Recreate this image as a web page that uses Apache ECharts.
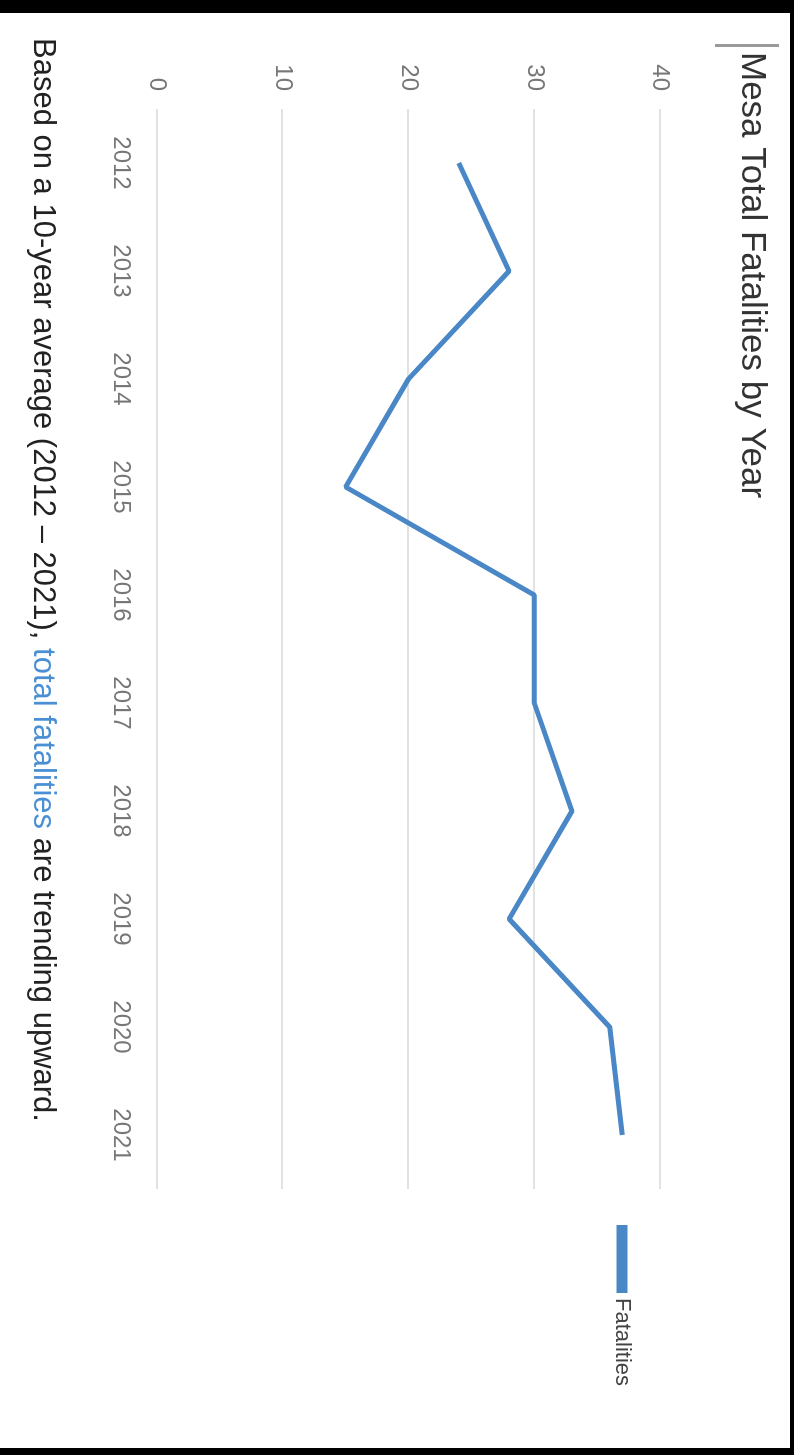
<!DOCTYPE html>
<html>
<head>
<meta charset="utf-8">
<script src="https://cdn.jsdelivr.net/npm/echarts@6/dist/echarts.min.js"></script>
<style>
html,body{margin:0;padding:0;background:#000;width:794px;height:1455px;overflow:hidden;}
#wrap{position:absolute;left:0;top:13px;width:790px;height:1435px;background:#fff;overflow:hidden;}
#chart{position:absolute;left:0;top:0;width:1435px;height:790px;transform-origin:0 0;transform:translateX(790px) rotate(90deg);}
</style>
</head>
<body>
<div id="wrap"><div id="chart"></div></div>
<script>
const titleText = 'Mesa Total Fatalities by Year';
const years = ['2012','2013','2014','2015','2016','2017','2018','2019','2020','2021'];
const fatalities = [24, 28, 20, 15, 30, 30, 33, 28, 36, 37];
const seriesName = 'Fatalities';
const notePre = 'Based on a 10-year average (2012 \u2013 2021), ';
const noteHighlight = 'total fatalities';
const notePost = ' are trending upward.';

const chart = echarts.init(document.getElementById('chart'), null, {renderer:'canvas'});
chart.setOption({
  backgroundColor: '#fff',
  animation: false,
  title: [
    {
      text: titleText,
      left: 34, top: 16,
      textStyle: {fontFamily: 'Liberation Sans, Arial, sans-serif', fontSize: 35, fontWeight: 'normal', color: '#333'}
    },
    {
      text: '{a|' + notePre + '}{b|' + noteHighlight + '}{a|' + notePost + '}',
      left: 20, top: 727,
      textStyle: {
        fontWeight: 'normal',
        rich: {
          a: {fontFamily: 'Liberation Sans, Arial, sans-serif', fontSize: 31, fontWeight: 'normal', color: '#222'},
          b: {fontFamily: 'Liberation Sans, Arial, sans-serif', fontSize: 31, fontWeight: 'normal', color: '#4a8fd4'}
        }
      }
    }
  ],
  graphic: [
    {type: 'rect', shape: {x: 31, y: 11, width: 3, height: 64}, style: {fill: '#9a9a9a'}}
  ],
  legend: {
    data: [seriesName],
    left: 1207, top: 152,
    icon: 'rect', itemWidth: 68, itemHeight: 11, itemGap: 6,
    textStyle: {fontFamily: 'Liberation Sans, Arial, sans-serif', fontSize: 22, color: '#444'}
  },
  grid: {left: 96, right: 259, top: 130, bottom: 157, containLabel: false},
  xAxis: {
    type: 'category',
    data: years,
    boundaryGap: true,
    axisLine: {show: false},
    axisTick: {show: false},
    axisLabel: {margin: 24, fontFamily: 'Liberation Sans, Arial, sans-serif', fontSize: 24, color: '#777'}
  },
  yAxis: {
    type: 'value',
    min: 0, max: 40, interval: 10,
    axisLine: {show: false},
    axisTick: {show: false},
    splitLine: {lineStyle: {color: '#e2e2e2', width: 2}},
    axisLabel: {margin: 18, fontFamily: 'Liberation Sans, Arial, sans-serif', fontSize: 24, color: '#777'}
  },
  series: [{
    name: seriesName,
    type: 'line',
    data: fatalities,
    showSymbol: false,
    symbol: 'none',
    lineStyle: {color: '#4a87c6', width: 5},
    itemStyle: {color: '#4a87c6'}
  }]
});
</script>
</body>
</html>
